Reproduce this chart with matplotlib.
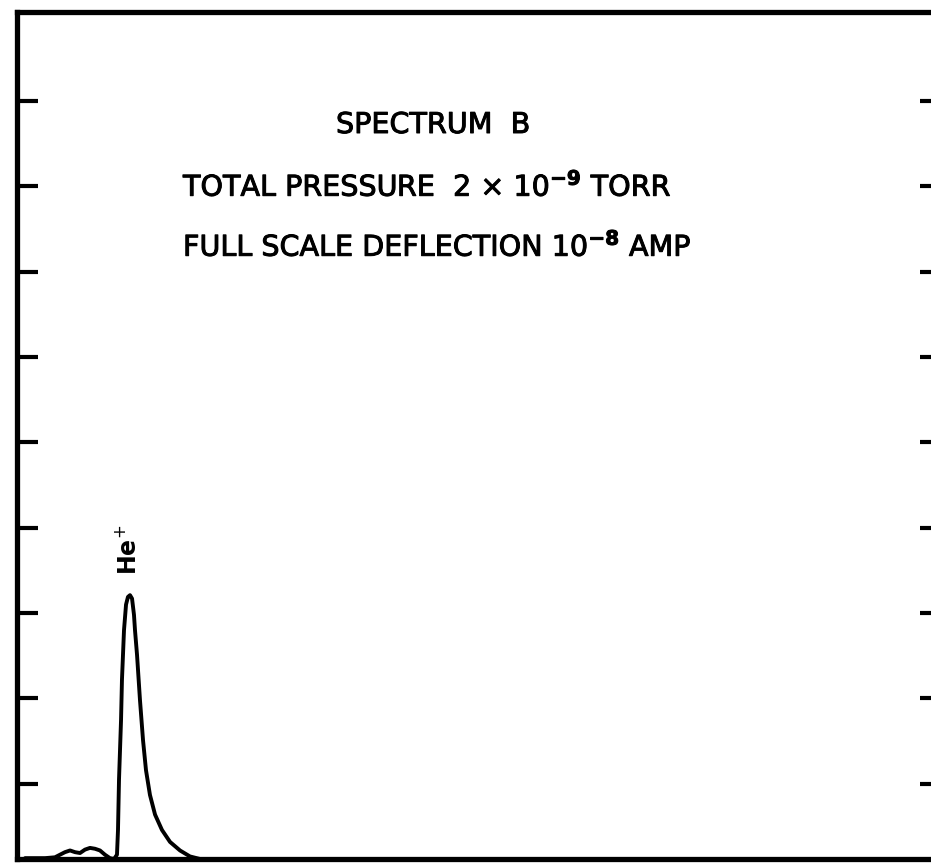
import numpy as np
import matplotlib
matplotlib.use('Agg')
import matplotlib.pyplot as plt
import matplotlib.patheffects as pe

# He+ trace, x in arbitrary mass-scale units (0-100), y in chart divisions
x_trace = [0.87, 3.03, 4.11, 4.65, 5.19, 5.74, 6.28, 6.82, 7.36, 7.90, 8.44, 8.98,
           9.52, 10.06, 10.50, 10.82, 10.93, 11.04, 11.26, 11.36, 11.58, 11.80,
           12.01, 12.23, 12.45, 12.66, 12.77, 12.99, 13.31, 13.64, 13.96, 14.39,
           14.94, 15.69, 16.56, 17.64, 18.72, 19.81, 20.89, 98.9]
y_trace = [0.13, 0.13, 0.14, 0.17, 0.20, 0.22, 0.20, 0.19, 0.23, 0.25, 0.24, 0.22,
           0.17, 0.13, 0.12, 0.17, 0.46, 1.05, 1.75, 2.22, 2.80, 3.10,
           3.19, 3.21, 3.17, 2.98, 2.80, 2.51, 1.98, 1.51, 1.16, 0.87,
           0.64, 0.46, 0.32, 0.22, 0.15, 0.12, 0.12, 0.12]

y_ticks = [1, 2, 3, 4, 5, 6, 7, 8, 9]

title_lines = ['SPECTRUM  B',
               r'TOTAL PRESSURE  2 $\times$ 10$^{\mathbf{-9}}$ TORR',
               r'FULL SCALE DEFLECTION 10$^{\mathbf{-8}}$ AMP']
peak_label = r'He$^{+}$'

W, H = 931, 868
fig = plt.figure(figsize=(W / 100, H / 100), dpi=100)
# axes box: left spine at px 17, right spine just off the picture, bottom 859, top 12
ax = fig.add_axes([17 / W, (H - 859) / H, (941 - 17) / W, (859 - 12) / H])

ax.plot(x_trace, y_trace, color='black', lw=2.8, solid_joinstyle='round',
        solid_capstyle='round')

ax.set_xlim(0, 100)
ax.set_ylim(0.12, 10.04)
ax.set_xticks([])
ax.set_yticks(y_ticks)
ax.tick_params(axis='y', which='both', direction='in', length=15, width=3,
               left=True, right=True, labelleft=False, labelright=False)
for s in ax.spines.values():
    s.set_linewidth(3.8)

plt.rcParams['mathtext.fontset'] = 'dejavusans'
fs = 20.6
heavy = [pe.withStroke(linewidth=0.7, foreground='black')]
fig.text(336 / W, 1 - 125 / H, title_lines[0], fontsize=fs,
         ha='left', va='center', path_effects=heavy)
fig.text(183 / W, 1 - 187 / H, title_lines[1], fontsize=fs,
         ha='left', va='center', path_effects=heavy)
fig.text(183 / W, 1 - 247 / H, title_lines[2], fontsize=fs,
         ha='left', va='center', path_effects=heavy)

ax.text(12.1, 3.45, peak_label, rotation=90, fontsize=17, fontweight='bold',
        ha='center', va='bottom')

fig.savefig('out.png', dpi=100)
